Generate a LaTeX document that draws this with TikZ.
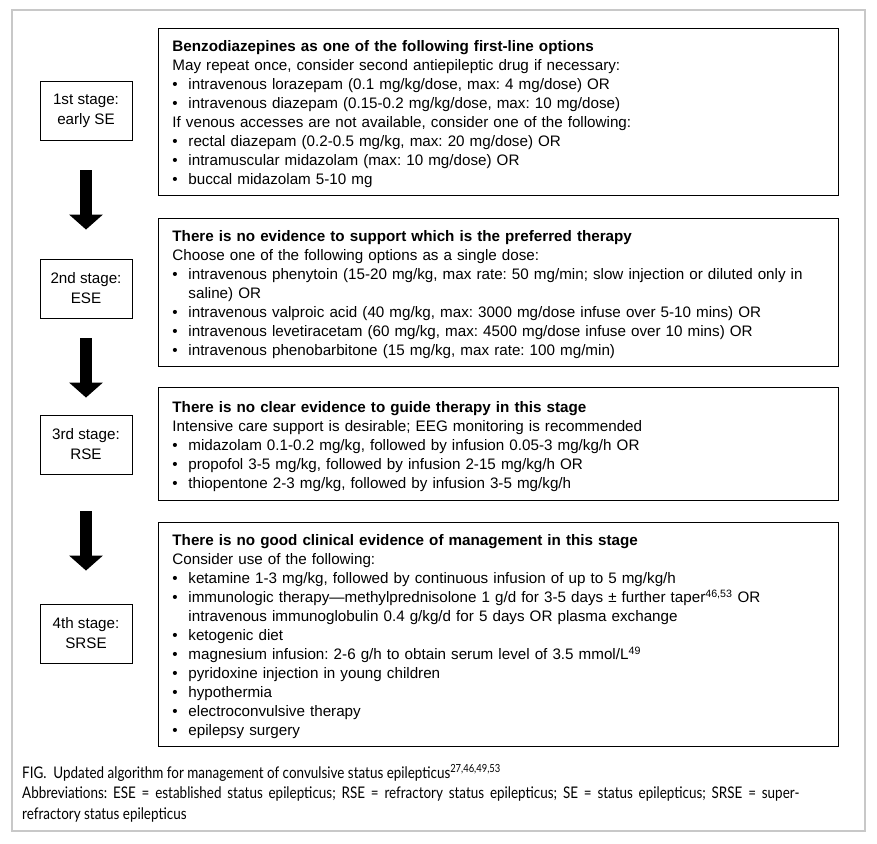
\documentclass[tikz,border=0pt]{standalone}
\usepackage{fontspec}
\setmainfont{Liberation Sans}
\newfontfamily\capfont[FakeStretch=0.84]{Lato}
\usetikzlibrary{positioning,arrows.meta}
\definecolor{seFrameLine}{HTML}{C8C8C8}
\frenchspacing

% one plain line and one bullet line of a content box
\newcommand{\pl}[1]{\par\noindent\strut#1\strut}
\newcommand{\bl}[1]{\par\hangindent=16pt\hangafter=1\noindent\makebox[16pt][l]{\textbullet}\strut#1\strut}

\begin{document}
\begin{tikzpicture}[
    x=1pt, y=-1pt,
    stage/.style={
        rectangle,
        draw,
        line width=0.9pt,
        minimum width=92pt,
        minimum height=59pt,
        align=center,
        font=\fontsize{15.2}{20}\selectfont,
    },
    content/.style={
        rectangle,
        draw,
        line width=0.9pt,
        anchor=north west,
        text width=652pt,
        inner xsep=14pt,
        inner ysep=4.5pt,
        align=left,
        font=\fontsize{15.2}{19}\selectfont,
    },
    bigarrow/.style={
        line width=12pt,
        -{Triangle[width=33pt,length=15pt]},
    },
]
    \useasboundingbox (0,0) rectangle (877,843);
    \draw[seFrameLine, line width=1.2pt] (12,10) rectangle (865,831);

    % Stages
    \node[stage] (st1) at (86,110.5) {1st stage:\\early SE};
    \node[stage] (st2) at (86,288.5) {2nd stage:\\ESE};
    \node[stage] (st3) at (86,444.5) {3rd stage:\\RSE};
    \node[stage] (st4) at (86,633.5) {4th stage:\\SRSE};

    \draw[bigarrow, shorten <=30pt, shorten >=29pt] (st1) -- (st2);
    \draw[bigarrow, shorten <=20pt, shorten >=17pt] (st2) -- (st3);
    \draw[bigarrow, shorten <=37pt, shorten >=33pt] (st3) -- (st4);

    % Therapy boxes
    \node[content] (th1) at (158,28) {%
        \pl{\textbf{Benzodiazepines as one of the following first-line options}}
        \pl{May repeat once, consider second antiepileptic drug if necessary:}
        \bl{intravenous lorazepam (0.1 mg/kg/dose, max: 4 mg/dose) OR}
        \bl{intravenous diazepam (0.15-0.2 mg/kg/dose, max: 10 mg/dose)}
        \pl{If venous accesses are not available, consider one of the following:}
        \bl{rectal diazepam (0.2-0.5 mg/kg, max: 20 mg/dose) OR}
        \bl{intramuscular midazolam (max: 10 mg/dose) OR}
        \bl{buccal midazolam 5-10 mg}};

    \node[content] (th2) at (158,218) {%
        \pl{\textbf{There is no evidence to support which is the preferred therapy}}
        \pl{Choose one of the following options as a single dose:}
        \bl{intravenous phenytoin (15-20 mg/kg, max rate: 50 mg/min; slow injection or diluted only in\newline saline) OR}
        \bl{intravenous valproic acid (40 mg/kg, max: 3000 mg/dose infuse over 5-10 mins) OR}
        \bl{intravenous levetiracetam (60 mg/kg, max: 4500 mg/dose infuse over 10 mins) OR}
        \bl{intravenous phenobarbitone (15 mg/kg, max rate: 100 mg/min)}};

    \node[content, inner ysep=6pt] (th3) at (158,387) {%
        \pl{\textbf{There is no clear evidence to guide therapy in this stage}}
        \pl{Intensive care support is desirable; EEG monitoring is recommended}
        \bl{midazolam 0.1-0.2 mg/kg, followed by infusion 0.05-3 mg/kg/h OR}
        \bl{propofol 3-5 mg/kg, followed by infusion 2-15 mg/kg/h OR}
        \bl{thiopentone 2-3 mg/kg, followed by infusion 3-5 mg/kg/h}};

    \node[content] (th4) at (158,522) {%
        \pl{\textbf{There is no good clinical evidence of management in this stage}}
        \pl{Consider use of the following:}
        \bl{ketamine 1-3 mg/kg, followed by continuous infusion of up to 5 mg/kg/h}
        \bl{immunologic therapy—methylprednisolone 1 g/d for 3-5 days ± further taper\textsuperscript{46,53} OR\newline intravenous immunoglobulin 0.4 g/kg/d for 5 days OR plasma exchange}
        \bl{ketogenic diet}
        \bl{magnesium infusion: 2-6 g/h to obtain serum level of 3.5 mmol/L\textsuperscript{49}}
        \bl{pyridoxine injection in young children}
        \bl{hypothermia}
        \bl{electroconvulsive therapy}
        \bl{epilepsy surgery}};

    % Caption
    \node[anchor=north west, text width=777pt, align=justify, inner sep=0pt, font=\capfont\fontsize{16}{20.3}\selectfont] (caption) at (22,764) {%
        FIG.\ \ Updated algorithm for management of convulsive status epilepticus\textsuperscript{27,46,49,53}\par
        Abbreviations: ESE = established status epilepticus; RSE = refractory status epilepticus; SE = status epilepticus; SRSE = super-\linebreak
        refractory status epilepticus};
\end{tikzpicture}
\end{document}
